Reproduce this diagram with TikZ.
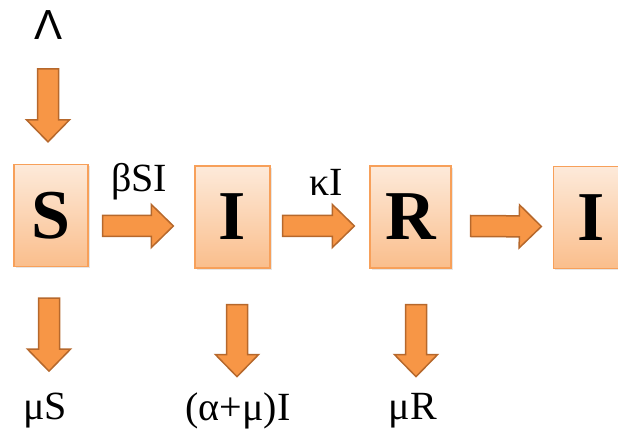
\documentclass[tikz,border=0pt]{standalone}
\usepackage{fontspec}
\setmainfont{Liberation Serif}
\newfontfamily\lamfont{Liberation Sans}
\usetikzlibrary{calc,shadows}

\definecolor{boxtop}{RGB}{253,234,218}
\definecolor{boxbot}{RGB}{250,190,140}
\definecolor{boxline}{RGB}{247,160,90}
\definecolor{flowfill}{RGB}{247,150,70}
\definecolor{flowline}{RGB}{182,104,44}

\tikzset{
	compart/.style={draw=boxline, line width=1.3pt, top color=boxtop, bottom color=boxbot,
		minimum height=102pt, inner sep=0pt, font=\fontsize{70}{70}\selectfont\bfseries,
		drop shadow={opacity=0.2, shadow xshift=1.5pt, shadow yshift=-2pt}},
	flow/.style={fill=flowfill, draw=flowline, line width=1.5pt, line join=miter},
	rate/.style={font=\fontsize{40}{40}\selectfont, inner sep=0pt}
}

% fat block arrow from #1 to #2
\newcommand{\fatarrow}[2]{%
	\coordinate (hb) at ($(#2)!22pt!(#1)$);
	\draw[flow] ($(#1)!10.5pt!90:(#2)$) -- ($(hb)!10.5pt!90:(#2)$) -- ($(hb)!21.5pt!90:(#2)$) -- (#2)
		-- ($(hb)!21.5pt!-90:(#2)$) -- ($(hb)!10.5pt!-90:(#2)$) -- ($(#1)!10.5pt!-90:(#2)$) -- cycle;
}

\begin{document}
\begin{tikzpicture}[x=1pt,y=-1pt]
			%%%%% START %%%%%
			\path[use as bounding box, clip] (0,0) rectangle (618,430);
			
			% compartments
			\node[compart, minimum width=74pt] (S) at (51,215.5) {S};
			\node[compart, minimum width=75pt] (I) at (232.5,217) {I};
			\node[compart, minimum width=81pt] (R) at (410.5,217) {R};
			\node[compart, minimum width=75pt] (Inew) at (591,217.5) {I};
			
			% recruitment
			\node[rate, font=\fontsize{42}{42}\selectfont\lamfont] (lam) at (49,25) {Λ};
			\coordinate (in0) at ([xshift=-3pt, yshift=95pt]S.north);
			\coordinate (in1) at ([xshift=-3pt, yshift=22pt]S.north);
			\fatarrow{in0}{in1}
			
			% transfers between compartments
			\coordinate (si0) at ([xshift=14pt, yshift=-10.5pt]S.east);
			\coordinate (si1) at ([xshift=-21pt, yshift=-9pt]I.west);
			\fatarrow{si0}{si1}
			\node[rate] (beta) at (139,182) {βSI};
			
			\coordinate (ir0) at ([xshift=12pt, yshift=-9pt]I.east);
			\coordinate (ir1) at ([xshift=-15pt, yshift=-9pt]R.west);
			\fatarrow{ir0}{ir1}
			\node[rate] (kappa) at (326,182) {κI};
			
			\coordinate (ri0) at ([xshift=19pt, yshift=-9pt]R.east);
			\coordinate (ri1) at ([xshift=-11.5pt, yshift=-9pt]Inew.west);
			\fatarrow{ri0}{ri1}
			
			% removals
			\coordinate (sd0) at ([xshift=-2pt, yshift=-31pt]S.south);
			\coordinate (sd1) at ([xshift=-2pt, yshift=-104pt]S.south);
			\fatarrow{sd0}{sd1}
			\node[rate] (muS) at (45,411) {μS};
			
			\coordinate (id0) at ([xshift=4.5pt, yshift=-36pt]I.south);
			\coordinate (id1) at ([xshift=4.5pt, yshift=-108pt]I.south);
			\fatarrow{id0}{id1}
			\node[rate] (muI) at (238,411) {(α+μ)I};
			
			\coordinate (rd0) at ([xshift=5.5pt, yshift=-36pt]R.south);
			\coordinate (rd1) at ([xshift=5.5pt, yshift=-108pt]R.south);
			\fatarrow{rd0}{rd1}
			\node[rate] (muR) at (413,411) {μR};
			%%%%% END %%%%%
\end{tikzpicture}
\end{document}
